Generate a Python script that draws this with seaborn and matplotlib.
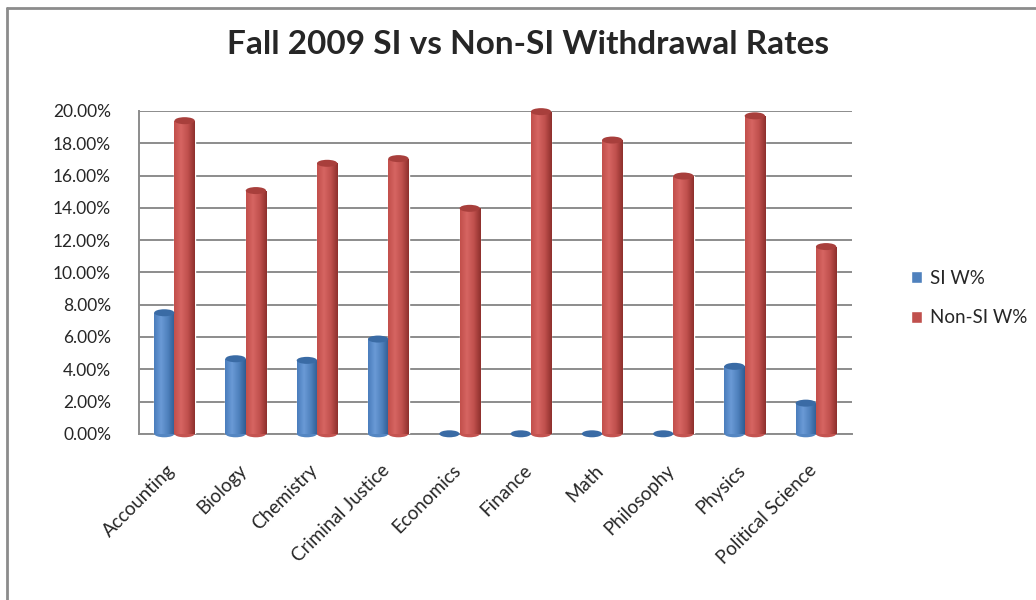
import numpy as np
import pandas as pd
import matplotlib
matplotlib.use("Agg")
import matplotlib.pyplot as plt
import matplotlib.colors as mcolors
import matplotlib.transforms as mtransforms
from matplotlib.patches import Ellipse
from matplotlib.lines import Line2D
import seaborn as sns

subjects = ["Accounting", "Biology", "Chemistry", "Criminal Justice", "Economics",
            "Finance", "Math", "Philosophy", "Physics", "Political Science"]
si_w = [0.075, 0.0465, 0.0455, 0.0587, 0.0, 0.0, 0.0, 0.0, 0.0418, 0.019]
non_si_w = [0.194, 0.1507, 0.1676, 0.1705, 0.1397, 0.1996, 0.182, 0.1597, 0.197, 0.116]
series = ["SI W%", "Non-SI W%"]

sns.set_style("white")
plt.rcParams["font.family"] = ["Lato", "DejaVu Sans"]

df = pd.DataFrame({
    "Subject": subjects * 2,
    "Series": [series[0]] * len(subjects) + [series[1]] * len(subjects),
    "Rate": si_w + non_si_w,
})

base_cols = {"SI W%": "#4F81BD", "Non-SI W%": "#C0504D"}
shade_cmaps = {
    "SI W%": mcolors.LinearSegmentedColormap.from_list("b", ["#4A7DBC", "#6A9AD6", "#4F81BD", "#2F5C92"]),
    "Non-SI W%": mcolors.LinearSegmentedColormap.from_list("r", ["#C24F4B", "#D66562", "#C0504D", "#8E302D"]),
}
cap_cols = {"SI W%": "#3A6BA5", "Non-SI W%": "#A83F3C"}

fig = plt.figure(figsize=(10.36, 6.0), dpi=100)
# chart-area border: only top and left edges show in the crop
fig.add_artist(Line2D([7 / 1036, 1], [1 - 8 / 600, 1 - 8 / 600], transform=fig.transFigure,
                      color="#8C8C8C", linewidth=2))
fig.add_artist(Line2D([7 / 1036, 7 / 1036], [0, 1 - 8 / 600], transform=fig.transFigure,
                      color="#8C8C8C", linewidth=2))

ax = fig.add_axes([0.134, 0.277, 0.688, 0.538])

sns.barplot(data=df, x="Subject", y="Rate", hue="Series", palette=base_cols,
            width=0.57, gap=0, saturation=1, ax=ax, zorder=3)

ax.set_ylim(0, 0.2)
ax.set_xlim(-0.5, len(subjects) - 0.5)
ax.set_yticks(np.arange(0, 0.201, 0.02))
ax.yaxis.set_major_formatter(matplotlib.ticker.FuncFormatter(lambda v, p: "{:.2f}%".format(v * 100)))
ax.tick_params(axis="y", labelsize=12.5, pad=20, length=0)
ax.tick_params(axis="x", labelsize=13.5, length=0, pad=20)
shift = mtransforms.ScaledTranslation(-8 / 100, 0, fig.dpi_scale_trans)
for lbl in ax.get_xticklabels():
    lbl.set_rotation(45)
    lbl.set_ha("right")
    lbl.set_rotation_mode("anchor")
    lbl.set_transform(lbl.get_transform() + shift)
ax.set_xlabel("")
ax.set_ylabel("")
ax.grid(axis="y", color="#8C8C8C", linewidth=1.4, zorder=0)
for s in ["top", "right"]:
    ax.spines[s].set_visible(False)
ax.spines["left"].set_color("#8C8C8C")
ax.spines["bottom"].set_color("#8C8C8C")
ax.spines["left"].set_linewidth(1.4)
ax.spines["bottom"].set_linewidth(1.4)

# cylinder shading + elliptical caps on the bars seaborn drew
fig.canvas.draw()
px_per_unit = ax.bbox.height / 0.2
cap_h = 7 / px_per_unit
grad = np.linspace(0, 1, 64).reshape(1, -1)
for container, name in zip(ax.containers, series):
    for bar in container:
        x0, y0 = bar.get_x(), bar.get_y()
        w, h = bar.get_width(), bar.get_height()
        if h > 0:
            im = ax.imshow(grad, cmap=shade_cmaps[name], aspect="auto",
                           extent=[x0, x0 + w, y0, y0 + h], zorder=3.5)
            im.set_clip_path(bar)
            ax.add_patch(Ellipse((x0 + w / 2, y0), w, cap_h, facecolor=shade_cmaps[name](0.6),
                                 edgecolor="none", zorder=3.4, clip_on=False))
        ax.add_patch(Ellipse((x0 + w / 2, y0 + h), w, cap_h, facecolor=cap_cols[name],
                             edgecolor="none", zorder=4, clip_on=False))

ax.set_aspect("auto")
ax.set_xlim(-0.5, len(subjects) - 0.5)
ax.set_ylim(0, 0.2)

ax.legend(loc="center left", bbox_to_anchor=(1.06, 0.42), frameon=False, fontsize=13.5,
          handlelength=0.6, handleheight=0.6, handletextpad=0.4, labelspacing=1.2)

fig.suptitle("Fall 2009 SI vs Non-SI Withdrawal Rates", x=0.51, y=0.95,
             fontsize=24, fontweight="bold")

plt.savefig("out.png", dpi=100)
